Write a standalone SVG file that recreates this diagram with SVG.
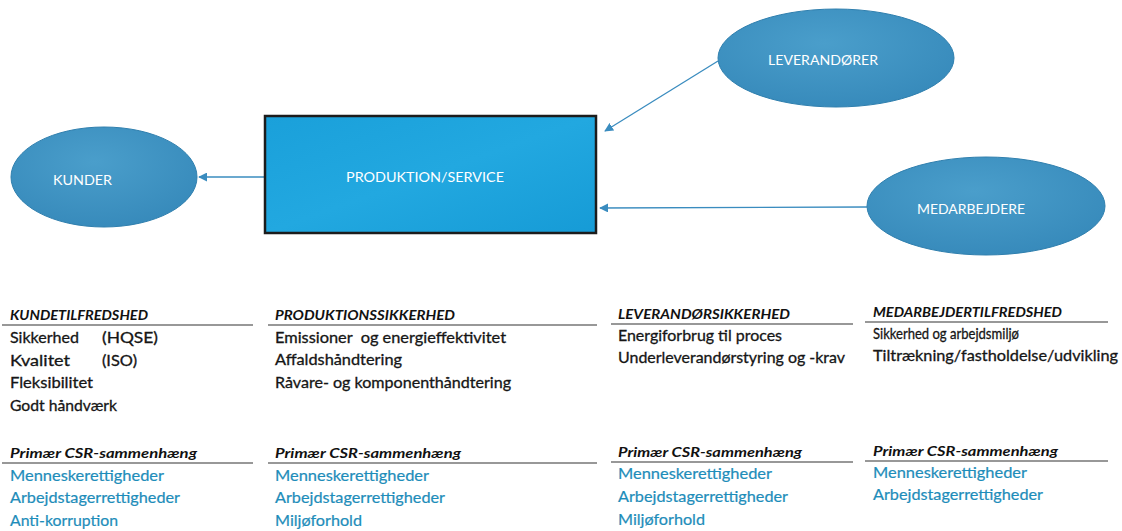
<svg xmlns="http://www.w3.org/2000/svg" width="1122" height="531" viewBox="0 0 1122 531">
  <defs>
    <radialGradient id="ellFill" cx="0.45" cy="0.35" r="0.7">
      <stop offset="0" stop-color="#4a9ecb"/>
      <stop offset="1" stop-color="#3689ba"/>
    </radialGradient>
    <linearGradient id="rectFill" x1="0" y1="0" x2="1" y2="1">
      <stop offset="0" stop-color="#1aa0da"/>
      <stop offset="0.5" stop-color="#22a8e0"/>
      <stop offset="1" stop-color="#169bd6"/>
    </linearGradient>
    <marker id="arr" viewBox="0 0 10 10" refX="9" refY="5" markerWidth="9" markerHeight="9" markerUnits="userSpaceOnUse" orient="auto">
      <path d="M0,0 L10,5 L0,10 Z" fill="#3a8cbf"/>
    </marker>
  </defs>
  <style>
    .ell { fill: url(#ellFill); stroke: #2f7fae; stroke-width: 1; }
    .lbl { font-family: Lato, "Open Sans", sans-serif; font-size: 13px; fill: #ffffff; }
    .conn { stroke: #3a8cbf; stroke-width: 1.3; fill: none; marker-end: url(#arr); }
    .hd { font-family: Lato, "Open Sans", sans-serif; font-size: 14px; font-weight: bold; font-style: italic; fill: #111; }
    .tx { font-family: Lato, "Open Sans", sans-serif; font-size: 15px; fill: #161616; stroke: #161616; stroke-width: 0.3; white-space: pre; }
    .csr { font-family: Lato, "Open Sans", sans-serif; font-size: 15px; fill: #1e8dba; stroke: #1e8dba; stroke-width: 0.2; }
    .ul { stroke: #333; stroke-width: 1.2; }
  </style>
  <rect width="1122" height="531" fill="#ffffff"/>

  <g id="connectors">
    <line class="conn" x1="265" y1="177" x2="199" y2="177"/>
    <line class="conn" x1="718" y1="61" x2="605" y2="131"/>
    <line class="conn" x1="867" y1="207" x2="600" y2="208"/>
  </g>

  <g id="kunder">
    <ellipse class="ell" cx="104" cy="177" rx="93" ry="50"/>
    <text class="lbl" x="53" y="185" textLength="59" lengthAdjust="spacingAndGlyphs">KUNDER</text>
  </g>

  <g id="produktion">
    <rect x="265" y="116" width="331" height="117" fill="url(#rectFill)" stroke="#1c1c1c" stroke-width="2.5"/>
    <text class="lbl" x="346" y="182" textLength="158" lengthAdjust="spacingAndGlyphs">PRODUKTION/SERVICE</text>
  </g>

  <g id="leverandorer">
    <ellipse class="ell" cx="836" cy="58" rx="118" ry="49"/>
    <text class="lbl" x="768" y="65" textLength="110" lengthAdjust="spacingAndGlyphs">LEVERANDØRER</text>
  </g>

  <g id="medarbejdere">
    <ellipse class="ell" cx="986" cy="206" rx="119" ry="49"/>
    <text class="lbl" x="917" y="214" textLength="108" lengthAdjust="spacingAndGlyphs">MEDARBEJDERE</text>
  </g>

  <g id="col-kundetilfredshed">
    <text class="hd" x="10" y="320" textLength="138" lengthAdjust="spacingAndGlyphs">KUNDETILFREDSHED</text>
    <line class="ul" x1="2" y1="325" x2="253" y2="325"/>
    <text class="tx" x="10" y="343" textLength="69" lengthAdjust="spacingAndGlyphs">Sikkerhed</text>
    <text class="tx" x="102" y="343" textLength="56" lengthAdjust="spacingAndGlyphs">(HQSE)</text>
    <text class="tx" x="10" y="366" textLength="60" lengthAdjust="spacingAndGlyphs">Kvalitet</text>
    <text class="tx" x="102" y="366" textLength="35" lengthAdjust="spacingAndGlyphs">(ISO)</text>
    <text class="tx" x="10" y="388" textLength="83" lengthAdjust="spacingAndGlyphs">Fleksibilitet</text>
    <text class="tx" x="10" y="411" textLength="107" lengthAdjust="spacingAndGlyphs">Godt håndværk</text>
    <text class="hd" x="10" y="458" textLength="187" lengthAdjust="spacingAndGlyphs">Primær CSR-sammenhæng</text>
    <line class="ul" x1="2" y1="463" x2="253" y2="463"/>
    <text class="csr" x="10" y="481" textLength="154" lengthAdjust="spacingAndGlyphs">Menneskerettigheder</text>
    <text class="csr" x="10" y="503" textLength="170" lengthAdjust="spacingAndGlyphs">Arbejdstagerrettigheder</text>
    <text class="csr" x="10" y="526" textLength="108" lengthAdjust="spacingAndGlyphs">Anti-korruption</text>
  </g>

  <g id="col-produktionssikkerhed">
    <text class="hd" x="275" y="320" textLength="180" lengthAdjust="spacingAndGlyphs">PRODUKTIONSSIKKERHED</text>
    <line class="ul" x1="268" y1="325" x2="597" y2="325"/>
    <text class="tx" x="275" y="343" textLength="231" lengthAdjust="spacingAndGlyphs">Emissioner  og energieffektivitet</text>
    <text class="tx" x="275" y="365" textLength="127" lengthAdjust="spacingAndGlyphs">Affaldshåndtering</text>
    <text class="tx" x="275" y="388" textLength="236" lengthAdjust="spacingAndGlyphs">Råvare- og komponenthåndtering</text>
    <text class="hd" x="275" y="458" textLength="186" lengthAdjust="spacingAndGlyphs">Primær CSR-sammenhæng</text>
    <line class="ul" x1="268" y1="463" x2="597" y2="463"/>
    <text class="csr" x="275" y="481" textLength="154" lengthAdjust="spacingAndGlyphs">Menneskerettigheder</text>
    <text class="csr" x="275" y="503" textLength="170" lengthAdjust="spacingAndGlyphs">Arbejdstagerrettigheder</text>
    <text class="csr" x="275" y="526" textLength="87" lengthAdjust="spacingAndGlyphs">Miljøforhold</text>
  </g>

  <g id="col-leverandorsikkerhed">
    <text class="hd" x="618" y="319" textLength="172" lengthAdjust="spacingAndGlyphs">LEVERANDØRSIKKERHED</text>
    <line class="ul" x1="611" y1="324" x2="853" y2="324"/>
    <text class="tx" x="618" y="341" textLength="164" lengthAdjust="spacingAndGlyphs">Energiforbrug til proces</text>
    <text class="tx" x="618" y="363" textLength="227" lengthAdjust="spacingAndGlyphs">Underleverandørstyring og -krav</text>
    <text class="hd" x="618" y="457" textLength="184" lengthAdjust="spacingAndGlyphs">Primær CSR-sammenhæng</text>
    <line class="ul" x1="611" y1="462" x2="853" y2="462"/>
    <text class="csr" x="618" y="479" textLength="154" lengthAdjust="spacingAndGlyphs">Menneskerettigheder</text>
    <text class="csr" x="618" y="502" textLength="170" lengthAdjust="spacingAndGlyphs">Arbejdstagerrettigheder</text>
    <text class="csr" x="618" y="525" textLength="87" lengthAdjust="spacingAndGlyphs">Miljøforhold</text>
  </g>

  <g id="col-medarbejdertilfredshed">
    <text class="hd" x="873" y="317" textLength="189" lengthAdjust="spacingAndGlyphs">MEDARBEJDERTILFREDSHED</text>
    <line class="ul" x1="865" y1="322" x2="1108" y2="322"/>
    <text class="tx" x="873" y="339" textLength="146" lengthAdjust="spacingAndGlyphs">Sikkerhed og arbejdsmiljø</text>
    <text class="tx" x="873" y="361" textLength="245" lengthAdjust="spacingAndGlyphs">Tiltrækning/fastholdelse/udvikling</text>
    <text class="hd" x="873" y="456" textLength="185" lengthAdjust="spacingAndGlyphs">Primær CSR-sammenhæng</text>
    <line class="ul" x1="865" y1="461" x2="1108" y2="461"/>
    <text class="csr" x="873" y="478" textLength="154" lengthAdjust="spacingAndGlyphs">Menneskerettigheder</text>
    <text class="csr" x="873" y="500" textLength="170" lengthAdjust="spacingAndGlyphs">Arbejdstagerrettigheder</text>
  </g>
</svg>
